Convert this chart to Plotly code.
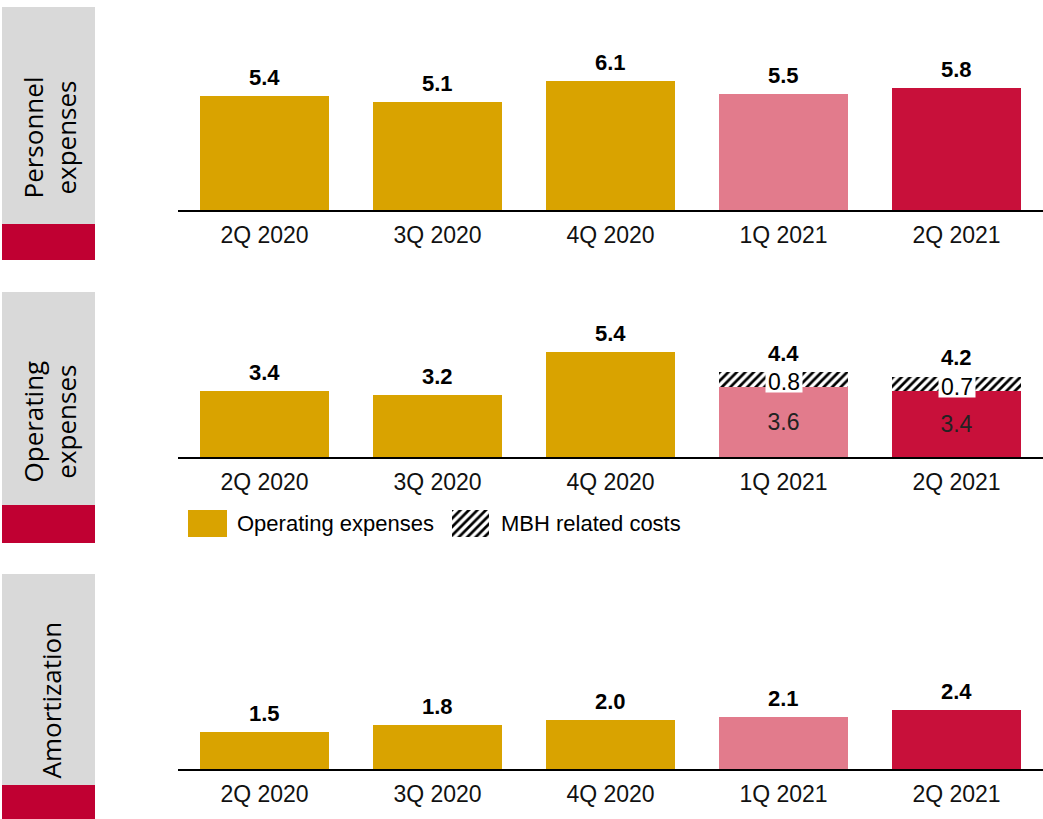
import plotly.graph_objects as go

# ---- data ----
quarters = ["2Q 2020", "3Q 2020", "4Q 2020", "1Q 2021", "2Q 2021"]
personnel = [5.4, 5.1, 6.1, 5.5, 5.8]
opex_base = [3.4, 3.2, 5.4, 3.6, 3.4]
mbh_costs = [None, None, None, 0.8, 0.7]
opex_total = [3.4, 3.2, 5.4, 4.4, 4.2]
amortization = [1.5, 1.8, 2.0, 2.1, 2.4]
panel_titles = ["Personnel<br>expenses", "Operating<br>expenses", "Amortization"]
legend_labels = ["Operating expenses", "MBH related costs"]

GOLD = "#D9A300"
PINK = "#E27B8C"
CRIMSON = "#C8103A"
BOXRED = "#C00032"
GREY = "#D9D9D9"
bar_colors = [GOLD, GOLD, GOLD, PINK, CRIMSON]

W, H = 1043, 819
def py(px):
    return 1 - px / H
def pxx(px):
    return px / W

FONT = "Liberation Sans Narrow, Arial Narrow, Liberation Sans, Arial"
BW = 0.74
HATCH = dict(shape="/", fgcolor="black", bgcolor="white", size=6, solidity=0.45, fgopacity=1)

fig = go.Figure()

# panel 1
fig.add_trace(go.Bar(x=quarters, y=personnel, marker=dict(color=bar_colors, line=dict(width=0)),
                     width=BW, xaxis="x", yaxis="y", showlegend=False))
# panel 2
fig.add_trace(go.Bar(x=quarters, y=opex_base, marker=dict(color=bar_colors, line=dict(width=0)),
                     width=BW, xaxis="x2", yaxis="y2", showlegend=False,
                     text=["", "", "", "3.6", "3.4"], textposition="inside", insidetextanchor="middle",
                     textfont=dict(family=FONT, size=23, color="#222222")))
fig.add_trace(go.Bar(x=quarters, y=mbh_costs,
                     marker=dict(color="white", line=dict(width=0), pattern=HATCH),
                     width=BW, xaxis="x2", yaxis="y2", showlegend=False))
# panel 3
fig.add_trace(go.Bar(x=quarters, y=amortization, marker=dict(color=bar_colors, line=dict(width=0)),
                     width=BW, xaxis="x3", yaxis="y3", showlegend=False))
# hatched legend swatch
fig.add_trace(go.Bar(x=[0], y=[1], width=1,
                     marker=dict(color="white", line=dict(width=0), pattern=HATCH),
                     xaxis="x4", yaxis="y4", showlegend=False, hoverinfo="skip"))

xdom = [pxx(178), 1]
common_x = dict(type="category", range=[-0.5, 4.5], showgrid=False, showline=True, linecolor="black",
                linewidth=2, ticks="", ticklabelstandoff=3,
                tickfont=dict(family=FONT, size=23, color="#111111"), zeroline=False)
common_y = dict(showgrid=False, showline=False, showticklabels=False, zeroline=False, ticks="")

fig.update_layout(
    width=W, height=H, margin=dict(l=0, r=0, t=0, b=0),
    paper_bgcolor="white", plot_bgcolor="white", barmode="stack", bargap=0,
    xaxis=dict(domain=xdom, anchor="y", **common_x),
    yaxis=dict(domain=[py(210), py(60)], range=[0, 150 / 21.1], anchor="x", **common_y),
    xaxis2=dict(domain=xdom, anchor="y2", **common_x),
    yaxis2=dict(domain=[py(457), py(320)], range=[0, 137 / 19.4], anchor="x2", **common_y),
    xaxis3=dict(domain=xdom, anchor="y3", **common_x),
    yaxis3=dict(domain=[py(769), py(670)], range=[0, 99 / 24.6], anchor="x3", **common_y),
    xaxis4=dict(domain=[pxx(452), pxx(489)], range=[-0.5, 0.5], visible=False, anchor="y4"),
    yaxis4=dict(domain=[py(537), py(510)], range=[0, 1], visible=False, anchor="x4"),
)

shapes = []
annotations = []

# value labels
for ax, vals in (("", personnel), ("2", opex_total), ("3", amortization)):
    for q, v in zip(quarters, vals):
        annotations.append(dict(x=q, y=v, xref="x" + ax, yref="y" + ax, text=f"<b>{v:.1f}</b>",
                                showarrow=False, yanchor="bottom", yshift=4,
                                font=dict(family=FONT, size=22, color="black")))

# MBH labels with white background
for q, b, m in zip(quarters, opex_base, mbh_costs):
    if m is not None:
        annotations.append(dict(x=q, y=b + m, xref="x2", yref="y2", text=f"{m:.1f}", showarrow=False,
                                yanchor="top", yshift=1, bgcolor="white", width=36, height=20, borderpad=0,
                                font=dict(family=FONT, size=23, color="black")))

# left label boxes
boxes = [(7, 224, 260), (292, 505, 543), (574, 785, 819)]
for (g0, r0, r1), title in zip(boxes, panel_titles):
    shapes.append(dict(type="rect", xref="paper", yref="paper", x0=pxx(2), x1=pxx(95), y0=py(r0), y1=py(g0),
                       fillcolor=GREY, line=dict(width=0), layer="below"))
    shapes.append(dict(type="rect", xref="paper", yref="paper", x0=pxx(2), x1=pxx(95), y0=py(r1), y1=py(r0),
                       fillcolor=BOXRED, line=dict(width=0), layer="below"))
    annotations.append(dict(x=pxx(50), y=py((g0 + r1) / 2 + 4), xref="paper", yref="paper", text=title,
                            showarrow=False, textangle=-90, xanchor="center", yanchor="middle",
                            font=dict(family="Open Sans", size=26, color="black")))

# legend
shapes.append(dict(type="rect", xref="paper", yref="paper", x0=pxx(188), x1=pxx(227), y0=py(537), y1=py(510),
                   fillcolor=GOLD, line=dict(width=0)))
annotations.append(dict(x=pxx(235), y=py(523), xref="paper", yref="paper", text=legend_labels[0],
                        showarrow=False, xanchor="left", yanchor="middle",
                        font=dict(family=FONT, size=22, color="black")))
annotations.append(dict(x=pxx(499), y=py(523), xref="paper", yref="paper", text=legend_labels[1],
                        showarrow=False, xanchor="left", yanchor="middle",
                        font=dict(family=FONT, size=22, color="black")))

fig.update_layout(shapes=shapes, annotations=annotations)
fig.write_html("out.html", config={"displayModeBar": False},
               post_script="document.body.style.margin='0px';document.body.style.overflow='hidden';")
